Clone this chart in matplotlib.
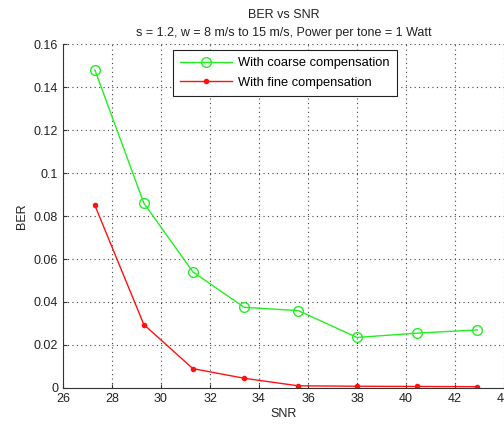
import matplotlib.pyplot as plt
from matplotlib.ticker import FuncFormatter, MultipleLocator

plt.rcParams['font.family'] = ['Liberation Sans', 'DejaVu Sans']

snr = [27.3, 29.3, 31.3, 33.4, 35.6, 38.0, 40.45, 42.9]
ber_coarse = [0.148, 0.086, 0.054, 0.0375, 0.036, 0.0235, 0.0255, 0.027]
ber_fine = [0.085, 0.0295, 0.009, 0.0045, 0.001, 0.0008, 0.0007, 0.0006]

fig = plt.figure(figsize=(5.04, 4.24), dpi=100)
ax = fig.add_axes([0.125, 0.085, 0.875, 0.811])

ax.plot(snr, ber_coarse, '-o', color='#22ee22', lw=1.0, markersize=7,
        markerfacecolor='none', markeredgewidth=1.0, label='With coarse compensation')
ax.plot(snr, ber_fine, '.-', color='#ff1111', lw=1.0, markersize=6,
        label='With fine compensation')

ax.set_xlim(26, 44)
ax.set_ylim(0, 0.16)
ax.xaxis.set_major_locator(MultipleLocator(2))
ax.yaxis.set_major_locator(MultipleLocator(0.02))
ax.yaxis.set_major_formatter(FuncFormatter(lambda v, p: '%g' % round(v, 4)))

ax.grid(True, linestyle=(0, (1, 3)), color='#444444', lw=0.8)
for s in ['top', 'right']:
    ax.spines[s].set_visible(False)
for s in ['left', 'bottom']:
    ax.spines[s].set_color('#333333')
ax.tick_params(direction='in', length=3, labelsize=9, colors='#333333', labelcolor='#222222')

ax.set_xlabel('SNR', fontsize=9, color='#222222', labelpad=2)
ax.set_ylabel('BER', fontsize=9, color='#222222', labelpad=4)
ax.set_title('BER vs SNR\ns = 1.2, w = 8 m/s to 15 m/s, Power per tone = 1 Watt',
             fontsize=9, color='#222222', pad=6, linespacing=1.6)

leg = ax.legend(loc='upper left', bbox_to_anchor=(0.249, 0.983), fontsize=9.3,
                fancybox=False, edgecolor='#222222', framealpha=1, handlelength=4.0,
                borderpad=0.55, labelspacing=0.6, handletextpad=0.5, borderaxespad=0)
leg.get_frame().set_linewidth(0.8)

fig.savefig('out.png', dpi=100)
